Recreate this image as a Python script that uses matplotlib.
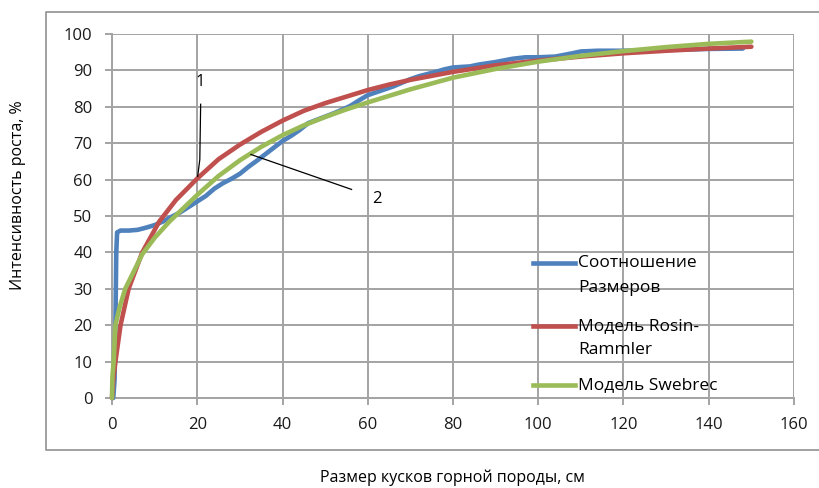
import matplotlib
matplotlib.use("Agg")
import matplotlib.pyplot as plt
from matplotlib.lines import Line2D

plt.rcParams['font.family'] = ['Open Sans', 'DejaVu Sans']

# measured data (blue)
size_meas = [0.3, 0.6, 0.8, 1.0, 1.2, 2, 4, 6, 8, 10, 12, 14, 16, 18, 20, 22, 24, 26,
             28, 30, 32, 34, 36, 38, 40, 42, 44, 46, 48, 50, 52, 54, 56, 58, 60, 62,
             64, 66, 68, 70, 72, 74, 76, 78, 80, 84, 86, 90, 94, 97, 100, 104, 108,
             110, 114, 120, 130, 140, 148]
pct_meas = [0, 5, 20, 40, 45.5, 46, 46, 46.2, 46.8, 47.5, 48.5, 49.8, 51, 52.5, 54,
            55.5, 57.5, 59, 60.2, 61.6, 63.5, 65.2, 67, 68.8, 70.6, 72, 73.6, 75.5,
            76.4, 77.3, 78.2, 79.2, 80.3, 81.8, 83.2, 84, 84.8, 85.6, 86.6, 87.6, 88.4,
            89, 89.6, 90.3, 90.8, 91.1, 91.6, 92.3, 93.2, 93.6, 93.6, 93.8, 94.7, 95.2,
            95.4, 95.4, 95.6, 95.9, 96.0]

# Rosin-Rammler model (red)
size_rr = [0, 0.3, 0.8, 2, 3.9, 7.1, 11.1, 15, 20, 25, 30, 35, 40, 45, 50, 55, 60, 65,
           70, 80, 90, 100, 110, 120, 130, 140, 150]
pct_rr = [0, 5, 10, 20, 30, 40, 48.5, 54.4, 60.3, 65.6, 69.6, 73.1, 76.2, 78.9, 81,
          82.8, 84.6, 86.1, 87.4, 89.6, 91.4, 92.7, 93.8, 94.7, 95.4, 96.0, 96.5]

# Swebrec model (green)
size_sw = [0, 0.1, 0.4, 0.8, 1.8, 3.1, 5, 7.1, 10, 13.5, 20, 25, 30, 35, 40, 45, 50,
           55, 60, 70, 80, 90, 100, 110, 120, 130, 140, 150]
pct_sw = [0, 6, 10, 20, 25, 30, 34.5, 39.5, 44, 48.5, 55.8, 61, 65.3, 69, 72.2, 74.9,
          77.2, 79.3, 81.2, 84.8, 88, 90.4, 92.4, 94, 95.3, 96.4, 97.3, 97.9]

labels = ['Соотношение\nРазмеров', 'Модель Rosin-\nRammler', 'Модель Swebrec']
colors = ['#4F81BD', '#C0504D', '#9BBB59']

W, H = 820, 488
fig = plt.figure(figsize=(W / 100, H / 100), dpi=100)
ax = fig.add_axes([112 / W, 1 - 398 / H, 682 / W, 364 / H])

def px(x, y):
    return x / W, 1 - y / H

series = [(size_meas, pct_meas), (size_rr, pct_rr), (size_sw, pct_sw)]
for (xs, ys), c in zip(series, colors):
    ax.plot(xs, ys, color=c, lw=3.3, solid_capstyle='round', solid_joinstyle='round',
            clip_on=False, zorder=3)

ax.set_xlim(0, 160)
ax.set_ylim(0, 100)
ax.set_xticks(range(0, 161, 20))
ax.set_yticks(range(0, 101, 10))
ax.grid(True, color='#a3a3a3', lw=1.4)
ax.set_axisbelow(True)
for s in ['top', 'right']:
    ax.spines[s].set_visible(False)
for s in ['left', 'bottom']:
    ax.spines[s].set_color('#a3a3a3')
    ax.spines[s].set_linewidth(1.4)
ax.tick_params(colors='#a3a3a3', labelcolor='#1a1a1a', labelsize=12, length=5,
               width=1.4, pad=9)

# annotations
ax.plot([20.8, 20.6, 20.1], [80.7, 65.5, 60.9], color='black', lw=0.9, zorder=4)
ax.plot([32.6, 56.2], [66.9, 57.3], color='black', lw=0.9, zorder=4)
ax.text(20.8, 86.8, '1', fontsize=12, ha='center', va='center')
ax.text(62.2, 54.8, '2', fontsize=12, ha='center', va='center')

# legend drawn like the spreadsheet one (line next to first text row)
leg_rows = [(263, 288), (326, 350), (385, None)]
for (y1, y2), lab, c in zip(leg_rows, labels, colors):
    fx0, fy = px(533, y1)
    fx1, _ = px(575, y1)
    fig.add_artist(Line2D([fx0, fx1], [fy, fy], color=c, lw=3.3,
                          transform=fig.transFigure))
    parts = lab.split('\n')
    tx, ty = px(578, y1)
    fig.text(tx, ty, parts[0], fontsize=12.5, ha='left', va='center')
    if y2 is not None:
        tx, ty = px(578, y2)
        fig.text(tx, ty, parts[1], fontsize=12.5, ha='left', va='center')

# outer chart frame
bx0, by0 = px(46, 12)
bx1, by1 = px(830, 450)
fig.add_artist(Line2D([bx1, bx0, bx0, bx1], [by0, by0, by1, by1], color='#9a9a9a',
                      lw=1.3, transform=fig.transFigure))

fx, fy = px(18, 195)
fig.text(fx, fy, 'Интенсивность роста, %', rotation=90, fontsize=11.5,
         ha='center', va='center')
fx, fy = px(452, 478)
fig.text(fx, fy, 'Размер кусков горной породы, см', fontsize=11.5,
         ha='center', va='center')

fig.savefig('out.png', dpi=100)
